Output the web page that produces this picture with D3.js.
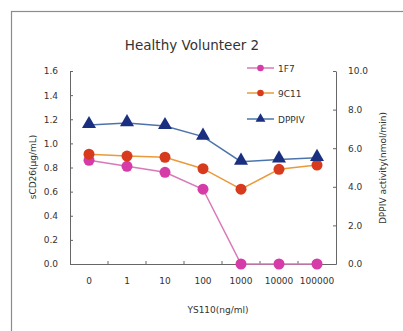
<!DOCTYPE html>
<html>
<head>
<meta charset="utf-8">
<script src="https://cdn.jsdelivr.net/npm/d3@7"></script>
<style>
  body { margin: 0; background: #fff; }
  svg text { font-family: "DejaVu Sans", sans-serif; fill: #333; }
</style>
</head>
<body>
<div id="chart"></div>
<script>
const doses = ['0', '1', '10', '100', '1000', '10000', '100000'];
const f7 = [0.86, 0.81, 0.76, 0.62, 0.0, 0.0, 0.0];          // sCD26, left axis
const c11 = [0.91, 0.895, 0.885, 0.79, 0.62, 0.785, 0.82];   // sCD26, left axis
const dppiv = [7.2, 7.3, 7.15, 6.6, 5.3, 5.42, 5.5];         // activity, right axis
const leftTicks = [0, 0.2, 0.4, 0.6, 0.8, 1.0, 1.2, 1.4, 1.6];
const rightTicks = [0, 2, 4, 6, 8, 10];

const w = 403, h = 331;
const plotL = 70, plotR = 336, plotT = 71, plotB = 264;

const svg = d3.select('#chart').append('svg')
  .attr('width', w)
  .attr('height', h);

// outer frame (runs off the right and bottom edges)
svg.append('rect')
  .attr('x', 11.5).attr('y', 11.5)
  .attr('width', 420).attr('height', 340)
  .attr('fill', 'none')
  .attr('stroke', '#8c8c8c')
  .attr('stroke-width', 1.2);

const x = d3.scaleBand().domain(doses).range([plotL, plotR]);
const yL = d3.scaleLinear().domain([0, 1.6]).range([plotB, plotT]);
const yR = d3.scaleLinear().domain([0, 10]).range([plotB, plotT]);

const axisColor = '#666';

// left axis
const gL = svg.append('g')
  .attr('transform', `translate(${plotL},0)`)
  .call(d3.axisLeft(yL).tickValues(leftTicks).tickFormat(d3.format('.1f'))
    .tickSizeInner(-3).tickSizeOuter(0).tickPadding(12));

// right axis
const gR = svg.append('g')
  .attr('transform', `translate(${plotR},0)`)
  .call(d3.axisRight(yR).tickValues(rightTicks).tickFormat(d3.format('.1f'))
    .tickSizeInner(-3).tickSizeOuter(0).tickPadding(12));

// bottom axis: labels centred, ticks on band boundaries
const gB = svg.append('g')
  .attr('transform', `translate(0,${plotB})`)
  .call(d3.axisBottom(x).tickSize(0).tickPadding(14));

svg.append('g')
  .selectAll('line')
  .data(doses.slice(1))
  .join('line')
  .attr('x1', (d) => x(d)).attr('x2', (d) => x(d))
  .attr('y1', plotB).attr('y2', plotB - 3)
  .attr('stroke', axisColor);

[gL, gR, gB].forEach((g) => {
  g.selectAll('path, line').attr('stroke', axisColor);
  g.selectAll('text')
    .style('font-family', '"DejaVu Sans", sans-serif')
    .style('font-size', '9px')
    .attr('fill', '#444');
});

// title
svg.append('text')
  .attr('x', 192).attr('y', 50)
  .attr('text-anchor', 'middle')
  .style('font-size', '13.5px')
  .text('Healthy Volunteer 2');

// axis titles
svg.append('text')
  .attr('transform', 'translate(36,167) rotate(-90)')
  .attr('text-anchor', 'middle')
  .style('font-size', '9px')
  .text('sCD26(μg/mL)');

svg.append('text')
  .attr('transform', 'translate(386,168) rotate(-90)')
  .attr('text-anchor', 'middle')
  .style('font-size', '9px')
  .text('DPPIV activity(nmol/min)');

svg.append('text')
  .attr('x', 218).attr('y', 313)
  .attr('text-anchor', 'middle')
  .style('font-size', '9px')
  .text('YS110(ng/ml)');

const cx = (i) => x(doses[i]) + x.bandwidth() / 2;

const series = [
  { name: '1F7', values: f7, y: yL, line: '#d879b8', fill: '#d63ca8', shape: 'circle' },
  { name: '9C11', values: c11, y: yL, line: '#ea9a3a', fill: '#d83a1e', shape: 'circle' },
  { name: 'DPPIV', values: dppiv, y: yR, line: '#4d74aa', fill: '#1b2f80', shape: 'triangle' },
];

const line = d3.line();

series.forEach((s) => {
  svg.append('path')
    .attr('d', line(s.values.map((v, i) => [cx(i), s.y(v)])))
    .attr('fill', 'none')
    .attr('stroke', s.line)
    .attr('stroke-width', 1.5);
});

const sym = {
  circle: d3.symbol().type(d3.symbolCircle).size(95),
  triangle: d3.symbol().type(d3.symbolTriangle).size(85),
};
const symSmall = {
  circle: d3.symbol().type(d3.symbolCircle).size(34),
  triangle: d3.symbol().type(d3.symbolTriangle).size(42),
};

series.forEach((s) => {
  svg.append('g')
    .selectAll('path')
    .data(s.values)
    .join('path')
    .attr('transform', (d, i) => `translate(${cx(i)},${s.y(d) + (s.shape === 'triangle' ? -1 : 0)})`)
    .attr('d', sym[s.shape])
    .attr('fill', s.fill);
});

// legend
const legend = svg.append('g');
const legendY = [68, 93, 119];
series.forEach((s, i) => {
  const g = legend.append('g').attr('transform', `translate(247,${legendY[i]})`);
  g.append('line')
    .attr('x1', 0).attr('x2', 27)
    .attr('stroke', s.line).attr('stroke-width', 1.5);
  g.append('path')
    .attr('transform', 'translate(13.5,0)')
    .attr('d', symSmall[s.shape])
    .attr('fill', s.fill);
  g.append('text')
    .attr('x', 31).attr('y', 3.5)
    .style('font-size', '9px')
    .text(s.name);
});
</script>
</body>
</html>
